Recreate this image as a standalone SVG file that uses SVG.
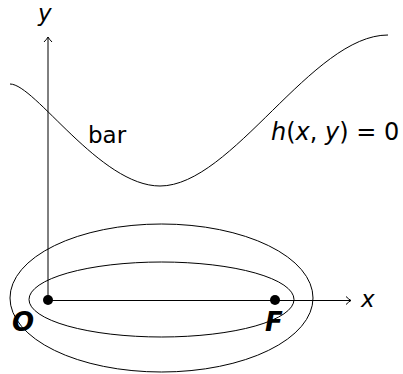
<svg xmlns="http://www.w3.org/2000/svg" width="403" height="374" viewBox="0 0 403 374">
  <style>
    .ln { fill: none; stroke: #000; stroke-width: 1; }
    .lbl { font-family: "DejaVu Sans", "Liberation Sans", sans-serif; font-size: 23px; fill: #000; }
    .it { font-style: italic; }
    .bi { font-style: italic; font-weight: bold; font-size: 26px; }
    .eq { font-size: 24px; }
    .pt { fill: #000; }
  </style>
  <defs>
    <marker id="arr" markerUnits="userSpaceOnUse" markerWidth="12" markerHeight="12" refX="0" refY="0" viewBox="-7 -6 8 12" orient="auto">
      <path d="M-5,-4 Q-2,-1 0,0 Q-2,1 -5,4" fill="none" stroke="#000" stroke-width="1"/>
    </marker>
  </defs>
  <rect width="403" height="374" fill="#fff"/>

  <g id="connectors">
    <line x1="48" y1="300" x2="48" y2="37" class="ln" marker-end="url(#arr)"/>
    <line x1="48" y1="300.5" x2="351" y2="300.5" class="ln" marker-end="url(#arr)"/>
  </g>

  <g id="curve">
    <path class="ln" d="M10,84 C35,84 100,186 160,186 C232,186 312,35 388,35"/>
  </g>

  <g id="outer-ellipse">
    <ellipse class="ln" cx="161.5" cy="298" rx="151.5" ry="74"/>
  </g>
  <g id="inner-ellipse">
    <ellipse class="ln" cx="161.5" cy="299.5" rx="132.5" ry="37.5"/>
  </g>

  <g id="point-O">
    <circle class="pt" cx="48" cy="300" r="5"/>
    <text class="lbl bi" x="12" y="331">O</text>
  </g>
  <g id="point-F">
    <circle class="pt" cx="275" cy="300" r="5"/>
    <text class="lbl bi" x="265" y="331">F</text>
  </g>

  <g id="label-y">
    <text class="lbl it" x="38" y="21">y</text>
  </g>
  <g id="label-x">
    <text class="lbl it" x="361" y="307">x</text>
  </g>
  <g id="label-bar">
    <text class="lbl" x="88" y="143">bar</text>
  </g>
  <g id="label-h">
    <text class="lbl eq" x="271" y="140"><tspan class="it">h</tspan>(<tspan class="it">x</tspan>, <tspan class="it">y</tspan>) = 0</text>
  </g>
</svg>
